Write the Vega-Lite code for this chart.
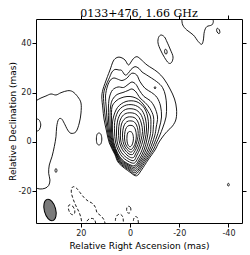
{
"$schema": "https://vega.github.io/schema/vega-lite/v6.json",
"width": 206, "height": 204,
"autosize": {"type": "none"},
"padding": {"left": 36, "top": 19, "right": 8, "bottom": 32},
"title": {"text": "0133+476, 1.66 GHz", "font": "DejaVu Serif", "fontSize": 11, "fontWeight": "normal", "color": "#000", "offset": -4, "frame": "group", "anchor": "middle"},
"config": {"view": {"stroke": "#000", "strokeWidth": 1},
  "axis": {"grid": false, "domain": false, "tickColor": "#000", "tickSize": 4, "labelFont": "DejaVu Sans", "labelFontSize": 8, "labelColor": "#222", "titleFont": "DejaVu Sans", "titleFontSize": 9, "titleFontWeight": "normal", "titleColor": "#000"}},
"resolve": {"axis": {"x": "independent", "y": "independent"}},
"datasets": {
"closed": [
{"id":"c1","n":1,"ra":0.2,"dec":4.25},{"id":"c1","n":2,"ra":-0.81,"dec":3.85},{"id":"c1","n":3,"ra":-1.34,"dec":2.23},{"id":"c1","n":4,"ra":-1.3,"dec":0.4},{"id":"c1","n":5,"ra":-0.81,"dec":-1.21},{"id":"c1","n":6,"ra":0,"dec":-1.94},{"id":"c1","n":7,"ra":0.81,"dec":-1.21},{"id":"c1","n":8,"ra":1.22,"dec":0.4},{"id":"c1","n":9,"ra":1.22,"dec":2.43},{"id":"c1","n":10,"ra":0.89,"dec":3.72},
{"id":"c2","n":1,"ra":0.41,"dec":6.68},{"id":"c2","n":2,"ra":-1.22,"dec":6.48},{"id":"c2","n":3,"ra":-2.24,"dec":4.86},{"id":"c2","n":4,"ra":-2.56,"dec":2.43},{"id":"c2","n":5,"ra":-2.24,"dec":0},{"id":"c2","n":6,"ra":-1.42,"dec":-2.02},{"id":"c2","n":7,"ra":-0.41,"dec":-3.04},{"id":"c2","n":8,"ra":0.81,"dec":-2.43},{"id":"c2","n":9,"ra":1.83,"dec":-0.81},{"id":"c2","n":10,"ra":2.24,"dec":1.62},{"id":"c2","n":11,"ra":2.03,"dec":4.25},{"id":"c2","n":12,"ra":1.42,"dec":5.87},
{"id":"c3","n":1,"ra":0.61,"dec":8.5},{"id":"c3","n":2,"ra":-1.42,"dec":8.3},{"id":"c3","n":3,"ra":-2.64,"dec":6.88},{"id":"c3","n":4,"ra":-3.25,"dec":4.66},{"id":"c3","n":5,"ra":-3.25,"dec":2.23},{"id":"c3","n":6,"ra":-2.64,"dec":-0.4},{"id":"c3","n":7,"ra":-1.83,"dec":-2.63},{"id":"c3","n":8,"ra":-0.61,"dec":-4.05},{"id":"c3","n":9,"ra":0.61,"dec":-3.64},{"id":"c3","n":10,"ra":2.03,"dec":-2.02},{"id":"c3","n":11,"ra":2.85,"dec":0.2},{"id":"c3","n":12,"ra":3.05,"dec":3.24},{"id":"c3","n":13,"ra":2.64,"dec":6.07},{"id":"c3","n":14,"ra":1.83,"dec":7.69},
{"id":"c4","n":1,"ra":0.81,"dec":10.12},{"id":"c4","n":2,"ra":-1.63,"dec":9.92},{"id":"c4","n":3,"ra":-3.05,"dec":8.5},{"id":"c4","n":4,"ra":-3.86,"dec":6.07},{"id":"c4","n":5,"ra":-4.07,"dec":3.44},{"id":"c4","n":6,"ra":-3.66,"dec":0.4},{"id":"c4","n":7,"ra":-2.64,"dec":-2.43},{"id":"c4","n":8,"ra":-1.63,"dec":-4.25},{"id":"c4","n":9,"ra":-1.02,"dec":-5.06},{"id":"c4","n":10,"ra":0.41,"dec":-4.86},{"id":"c4","n":11,"ra":2.03,"dec":-3.24},{"id":"c4","n":12,"ra":3.25,"dec":-1.21},{"id":"c4","n":13,"ra":3.86,"dec":1.21},{"id":"c4","n":14,"ra":3.86,"dec":4.45},{"id":"c4","n":15,"ra":3.46,"dec":7.29},{"id":"c4","n":16,"ra":2.44,"dec":9.11},
{"id":"c5","n":1,"ra":1.02,"dec":11.74},{"id":"c5","n":2,"ra":-1.83,"dec":11.54},{"id":"c5","n":3,"ra":-3.66,"dec":9.92},{"id":"c5","n":4,"ra":-4.67,"dec":7.29},{"id":"c5","n":5,"ra":-5.08,"dec":4.25},{"id":"c5","n":6,"ra":-4.47,"dec":0.81},{"id":"c5","n":7,"ra":-3.46,"dec":-2.43},{"id":"c5","n":8,"ra":-2.24,"dec":-4.86},{"id":"c5","n":9,"ra":-1.42,"dec":-6.28},{"id":"c5","n":10,"ra":0.2,"dec":-6.07},{"id":"c5","n":11,"ra":2.24,"dec":-4.25},{"id":"c5","n":12,"ra":3.66,"dec":-2.02},{"id":"c5","n":13,"ra":4.47,"dec":0.81},{"id":"c5","n":14,"ra":4.67,"dec":4.45},{"id":"c5","n":15,"ra":4.27,"dec":7.9},{"id":"c5","n":16,"ra":3.05,"dec":10.53},
{"id":"c6","n":1,"ra":1.22,"dec":13.36},{"id":"c6","n":2,"ra":-2.03,"dec":13.16},{"id":"c6","n":3,"ra":-4.27,"dec":11.34},{"id":"c6","n":4,"ra":-5.49,"dec":8.3},{"id":"c6","n":5,"ra":-5.89,"dec":4.86},{"id":"c6","n":6,"ra":-5.28,"dec":0.81},{"id":"c6","n":7,"ra":-4.07,"dec":-2.83},{"id":"c6","n":8,"ra":-2.64,"dec":-5.67},{"id":"c6","n":9,"ra":-1.63,"dec":-7.49},{"id":"c6","n":10,"ra":0.2,"dec":-7.09},{"id":"c6","n":11,"ra":2.64,"dec":-5.26},{"id":"c6","n":12,"ra":4.27,"dec":-2.83},{"id":"c6","n":13,"ra":5.28,"dec":0.4},{"id":"c6","n":14,"ra":5.49,"dec":4.45},{"id":"c6","n":15,"ra":5.08,"dec":8.5},{"id":"c6","n":16,"ra":3.66,"dec":11.74},
{"id":"c7","n":1,"ra":1.42,"dec":14.98},{"id":"c7","n":2,"ra":-2.24,"dec":14.78},{"id":"c7","n":3,"ra":-4.88,"dec":12.75},{"id":"c7","n":4,"ra":-6.3,"dec":9.31},{"id":"c7","n":5,"ra":-6.71,"dec":5.26},{"id":"c7","n":6,"ra":-6.1,"dec":0.81},{"id":"c7","n":7,"ra":-4.88,"dec":-3.24},{"id":"c7","n":8,"ra":-3.25,"dec":-6.48},{"id":"c7","n":9,"ra":-1.83,"dec":-8.5},{"id":"c7","n":10,"ra":0.2,"dec":-8.1},{"id":"c7","n":11,"ra":2.85,"dec":-6.28},{"id":"c7","n":12,"ra":4.67,"dec":-3.64},{"id":"c7","n":13,"ra":5.89,"dec":0},{"id":"c7","n":14,"ra":6.3,"dec":4.45},{"id":"c7","n":15,"ra":6.1,"dec":8.91},{"id":"c7","n":16,"ra":4.47,"dec":12.96},
{"id":"c8","n":1,"ra":1.63,"dec":16.4},{"id":"c8","n":2,"ra":-2.44,"dec":16.4},{"id":"c8","n":3,"ra":-5.49,"dec":14.17},{"id":"c8","n":4,"ra":-7.11,"dec":10.53},{"id":"c8","n":5,"ra":-7.52,"dec":6.07},{"id":"c8","n":6,"ra":-6.91,"dec":1.21},{"id":"c8","n":7,"ra":-5.69,"dec":-3.24},{"id":"c8","n":8,"ra":-3.86,"dec":-6.88},{"id":"c8","n":9,"ra":-2.03,"dec":-9.52},{"id":"c8","n":10,"ra":0.2,"dec":-9.11},{"id":"c8","n":11,"ra":3.05,"dec":-7.29},{"id":"c8","n":12,"ra":5.08,"dec":-4.45},{"id":"c8","n":13,"ra":6.5,"dec":-0.4},{"id":"c8","n":14,"ra":7.11,"dec":4.45},{"id":"c8","n":15,"ra":6.91,"dec":9.31},{"id":"c8","n":16,"ra":5.08,"dec":13.97},
{"id":"c9","n":1,"ra":7.52,"dec":9.31},{"id":"c9","n":2,"ra":7.32,"dec":14.17},{"id":"c9","n":3,"ra":5.69,"dec":16.6},{"id":"c9","n":4,"ra":3.66,"dec":17.82},{"id":"c9","n":5,"ra":1.22,"dec":18.42},{"id":"c9","n":6,"ra":-1.22,"dec":18.22},{"id":"c9","n":7,"ra":-3.46,"dec":17.21},{"id":"c9","n":8,"ra":-5.28,"dec":15.39},{"id":"c9","n":9,"ra":-6.91,"dec":12.96},{"id":"c9","n":10,"ra":-8.33,"dec":10.12},{"id":"c9","n":11,"ra":-8.46,"dec":6.07},{"id":"c9","n":12,"ra":-8.13,"dec":2.43},{"id":"c9","n":13,"ra":-6.42,"dec":-3.24},{"id":"c9","n":14,"ra":-4.27,"dec":-7.29},{"id":"c9","n":15,"ra":-2.11,"dec":-10.16},{"id":"c9","n":16,"ra":0,"dec":-9.64},{"id":"c9","n":17,"ra":3.29,"dec":-7.53},{"id":"c9","n":18,"ra":5.26,"dec":-4.53},{"id":"c9","n":19,"ra":6.83,"dec":-0.4},{"id":"c9","n":20,"ra":7.52,"dec":4.45},
{"id":"c10","n":1,"ra":8.13,"dec":9.31},{"id":"c10","n":2,"ra":7.93,"dec":14.17},{"id":"c10","n":3,"ra":7.11,"dec":17.21},{"id":"c10","n":4,"ra":5.28,"dec":19.23},{"id":"c10","n":5,"ra":2.85,"dec":20.04},{"id":"c10","n":6,"ra":0.81,"dec":20.85},{"id":"c10","n":7,"ra":-0.81,"dec":21.46},{"id":"c10","n":8,"ra":-2.44,"dec":20.25},{"id":"c10","n":9,"ra":-4.07,"dec":17.82},{"id":"c10","n":10,"ra":-6.1,"dec":15.99},{"id":"c10","n":11,"ra":-8.13,"dec":13.56},{"id":"c10","n":12,"ra":-9.55,"dec":10.12},{"id":"c10","n":13,"ra":-9.47,"dec":6.07},{"id":"c10","n":14,"ra":-9.06,"dec":2.43},{"id":"c10","n":15,"ra":-7.2,"dec":-3.24},{"id":"c10","n":16,"ra":-4.88,"dec":-7.29},{"id":"c10","n":17,"ra":-2.2,"dec":-10.85},{"id":"c10","n":18,"ra":0,"dec":-10.16},{"id":"c10","n":19,"ra":3.54,"dec":-7.73},{"id":"c10","n":20,"ra":5.45,"dec":-4.64},{"id":"c10","n":21,"ra":7.15,"dec":-0.4},{"id":"c10","n":22,"ra":7.93,"dec":4.45},
{"id":"c11","n":1,"ra":8.74,"dec":9.31},{"id":"c11","n":2,"ra":8.74,"dec":14.58},{"id":"c11","n":3,"ra":8.33,"dec":18.22},{"id":"c11","n":4,"ra":7.11,"dec":21.05},{"id":"c11","n":5,"ra":4.88,"dec":22.27},{"id":"c11","n":6,"ra":2.64,"dec":22.07},{"id":"c11","n":7,"ra":0.81,"dec":23.28},{"id":"c11","n":8,"ra":-0.81,"dec":24.29},{"id":"c11","n":9,"ra":-2.44,"dec":23.28},{"id":"c11","n":10,"ra":-3.86,"dec":20.85},{"id":"c11","n":11,"ra":-5.69,"dec":18.42},{"id":"c11","n":12,"ra":-8.13,"dec":16.8},{"id":"c11","n":13,"ra":-9.96,"dec":14.17},{"id":"c11","n":14,"ra":-11.18,"dec":10.12},{"id":"c11","n":15,"ra":-10.65,"dec":6.07},{"id":"c11","n":16,"ra":-10,"dec":2.43},{"id":"c11","n":17,"ra":-7.93,"dec":-3.24},{"id":"c11","n":18,"ra":-5.49,"dec":-7.29},{"id":"c11","n":19,"ra":-2.32,"dec":-11.54},{"id":"c11","n":20,"ra":0,"dec":-10.65},{"id":"c11","n":21,"ra":3.78,"dec":-7.98},{"id":"c11","n":22,"ra":5.63,"dec":-4.74},{"id":"c11","n":23,"ra":7.44,"dec":-0.4},{"id":"c11","n":24,"ra":8.33,"dec":4.45},
{"id":"c12","n":1,"ra":9.35,"dec":9.31},{"id":"c12","n":2,"ra":9.67,"dec":14.17},{"id":"c12","n":3,"ra":9.96,"dec":18.63},{"id":"c12","n":4,"ra":9.15,"dec":22.67},{"id":"c12","n":5,"ra":7.93,"dec":25.1},{"id":"c12","n":6,"ra":6.5,"dec":25.91},{"id":"c12","n":7,"ra":4.67,"dec":25.31},{"id":"c12","n":8,"ra":3.25,"dec":24.9},{"id":"c12","n":9,"ra":1.34,"dec":25.79},{"id":"c12","n":10,"ra":-0.69,"dec":27.82},{"id":"c12","n":11,"ra":-2.72,"dec":27.13},{"id":"c12","n":12,"ra":-4.07,"dec":24.42},{"id":"c12","n":13,"ra":-6.1,"dec":21.74},{"id":"c12","n":14,"ra":-8.74,"dec":20.04},{"id":"c12","n":15,"ra":-10.98,"dec":18.02},{"id":"c12","n":16,"ra":-12.4,"dec":14.58},{"id":"c12","n":17,"ra":-12.8,"dec":10.12},{"id":"c12","n":18,"ra":-11.99,"dec":6.07},{"id":"c12","n":19,"ra":-10.98,"dec":2.43},{"id":"c12","n":20,"ra":-8.66,"dec":-3.24},{"id":"c12","n":21,"ra":-6.1,"dec":-7.29},{"id":"c12","n":22,"ra":-2.4,"dec":-12.23},{"id":"c12","n":23,"ra":0,"dec":-11.18},{"id":"c12","n":24,"ra":4.02,"dec":-8.18},{"id":"c12","n":25,"ra":5.81,"dec":-4.82},{"id":"c12","n":26,"ra":7.76,"dec":-0.4},{"id":"c12","n":27,"ra":8.74,"dec":4.45},
{"id":"c13","n":1,"ra":9.96,"dec":9.31},{"id":"c13","n":2,"ra":10.49,"dec":14.17},{"id":"c13","n":3,"ra":10.77,"dec":18.63},{"id":"c13","n":4,"ra":10.16,"dec":21.86},{"id":"c13","n":5,"ra":8.33,"dec":26.12},{"id":"c13","n":6,"ra":7.32,"dec":28.34},{"id":"c13","n":7,"ra":6.1,"dec":29.36},{"id":"c13","n":8,"ra":4.47,"dec":29.15},{"id":"c13","n":9,"ra":3.37,"dec":28.95},{"id":"c13","n":10,"ra":2.03,"dec":27.13},{"id":"c13","n":11,"ra":0.81,"dec":27.74},{"id":"c13","n":12,"ra":-0.41,"dec":29.36},{"id":"c13","n":13,"ra":-2.03,"dec":30.49},{"id":"c13","n":14,"ra":-3.66,"dec":29.76},{"id":"c13","n":15,"ra":-4.88,"dec":28.34},{"id":"c13","n":16,"ra":-6.79,"dec":27.13},{"id":"c13","n":17,"ra":-10.85,"dec":24.42},{"id":"c13","n":18,"ra":-13.21,"dec":22.07},{"id":"c13","n":19,"ra":-14.43,"dec":18.63},{"id":"c13","n":20,"ra":-14.84,"dec":14.58},{"id":"c13","n":21,"ra":-14.63,"dec":10.12},{"id":"c13","n":22,"ra":-13.41,"dec":6.07},{"id":"c13","n":23,"ra":-11.99,"dec":2.43},{"id":"c13","n":24,"ra":-10.69,"dec":-0.4},{"id":"c13","n":25,"ra":-9.43,"dec":-3.24},{"id":"c13","n":26,"ra":-6.71,"dec":-7.29},{"id":"c13","n":27,"ra":-2.52,"dec":-12.92},{"id":"c13","n":28,"ra":0,"dec":-11.66},{"id":"c13","n":29,"ra":4.27,"dec":-8.42},{"id":"c13","n":30,"ra":6,"dec":-4.9},{"id":"c13","n":31,"ra":8.09,"dec":-0.4},{"id":"c13","n":32,"ra":9.15,"dec":4.45},
{"id":"c14","n":1,"ra":10.57,"dec":9.31},{"id":"c14","n":2,"ra":11.06,"dec":13.77},{"id":"c14","n":3,"ra":11.46,"dec":18.22},{"id":"c14","n":4,"ra":11.06,"dec":21.05},{"id":"c14","n":5,"ra":10.16,"dec":23.77},{"id":"c14","n":6,"ra":9.15,"dec":26.52},{"id":"c14","n":7,"ra":8.13,"dec":29.15},{"id":"c14","n":8,"ra":6.79,"dec":32.8},{"id":"c14","n":9,"ra":5.28,"dec":34.21},{"id":"c14","n":10,"ra":3.66,"dec":34.21},{"id":"c14","n":11,"ra":2.03,"dec":33.2},{"id":"c14","n":12,"ra":0.69,"dec":31.18},{"id":"c14","n":13,"ra":-0.41,"dec":32.39},{"id":"c14","n":14,"ra":-1.42,"dec":33.81},{"id":"c14","n":15,"ra":-2.85,"dec":34.54},{"id":"c14","n":16,"ra":-4.47,"dec":33.4},{"id":"c14","n":17,"ra":-6.91,"dec":31.18},{"id":"c14","n":18,"ra":-10.98,"dec":28.46},{"id":"c14","n":19,"ra":-13.82,"dec":25.51},{"id":"c14","n":20,"ra":-16.26,"dec":21.46},{"id":"c14","n":21,"ra":-18.09,"dec":17.41},{"id":"c14","n":22,"ra":-18.9,"dec":13.36},{"id":"c14","n":23,"ra":-18.7,"dec":9.31},{"id":"c14","n":24,"ra":-17.28,"dec":6.48},{"id":"c14","n":25,"ra":-15.04,"dec":4.25},{"id":"c14","n":26,"ra":-13.21,"dec":2.02},{"id":"c14","n":27,"ra":-11.59,"dec":-0.4},{"id":"c14","n":28,"ra":-10.16,"dec":-3.24},{"id":"c14","n":29,"ra":-7.32,"dec":-7.29},{"id":"c14","n":30,"ra":-4.67,"dec":-11.34},{"id":"c14","n":31,"ra":-2.64,"dec":-13.69},{"id":"c14","n":32,"ra":0,"dec":-12.23},{"id":"c14","n":33,"ra":4.51,"dec":-8.62},{"id":"c14","n":34,"ra":6.18,"dec":-5},{"id":"c14","n":35,"ra":8.41,"dec":-0.4},{"id":"c14","n":36,"ra":9.55,"dec":4.45},
{"id":"o1","n":1,"ra":-12.6,"dec":43.32},{"id":"o1","n":2,"ra":-14.02,"dec":42.51},{"id":"o1","n":3,"ra":-15.04,"dec":40.49},{"id":"o1","n":4,"ra":-16.46,"dec":37.25},{"id":"o1","n":5,"ra":-17.48,"dec":34.42},{"id":"o1","n":6,"ra":-16.87,"dec":32.19},{"id":"o1","n":7,"ra":-15.65,"dec":31.99},{"id":"o1","n":8,"ra":-14.02,"dec":34.21},{"id":"o1","n":9,"ra":-12.4,"dec":37.25},{"id":"o1","n":10,"ra":-11.38,"dec":40.09},{"id":"o1","n":11,"ra":-11.59,"dec":42.31},
{"id":"o2","n":1,"ra":-14.31,"dec":37.53},{"id":"o2","n":2,"ra":-14.96,"dec":37.13},{"id":"o2","n":3,"ra":-15.04,"dec":36.04},{"id":"o2","n":4,"ra":-14.63,"dec":35.55},{"id":"o2","n":5,"ra":-14.15,"dec":36.04},{"id":"o2","n":6,"ra":-14.06,"dec":37.05},
{"id":"o3","n":1,"ra":-10.16,"dec":22.47},{"id":"o3","n":2,"ra":-10.49,"dec":21.99},{"id":"o3","n":3,"ra":-10.16,"dec":21.46},{"id":"o3","n":4,"ra":-9.84,"dec":21.99},
{"id":"o4","n":1,"ra":12.6,"dec":3.64},{"id":"o4","n":2,"ra":11.79,"dec":3.04},{"id":"o4","n":3,"ra":11.46,"dec":1.21},{"id":"o4","n":4,"ra":11.79,"dec":-0.61},{"id":"o4","n":5,"ra":12.6,"dec":-1.21},{"id":"o4","n":6,"ra":13.41,"dec":-0.61},{"id":"o4","n":7,"ra":13.66,"dec":1.21},{"id":"o4","n":8,"ra":13.41,"dec":3.04},
{"id":"o5","n":1,"ra":37.8,"dec":9.31},{"id":"o5","n":2,"ra":36.79,"dec":8.71},{"id":"o5","n":3,"ra":36.26,"dec":6.88},{"id":"o5","n":4,"ra":36.79,"dec":5.06},{"id":"o5","n":5,"ra":37.8,"dec":4.45},{"id":"o5","n":6,"ra":38.82,"dec":5.06},{"id":"o5","n":7,"ra":39.23,"dec":6.88},{"id":"o5","n":8,"ra":38.82,"dec":8.71},
{"id":"o6","n":1,"ra":30.08,"dec":-10.73},{"id":"o6","n":2,"ra":29.67,"dec":-11.54},{"id":"o6","n":3,"ra":30.08,"dec":-12.35},{"id":"o6","n":4,"ra":30.49,"dec":-11.54},
{"id":"o7","n":1,"ra":-39.96,"dec":-16.68},{"id":"o7","n":2,"ra":-40.33,"dec":-17.29},{"id":"o7","n":3,"ra":-39.96,"dec":-17.9},{"id":"o7","n":4,"ra":-39.59,"dec":-17.29},
{"id":"o8","n":1,"ra":-35.49,"dec":46.04},{"id":"o8","n":2,"ra":-36.3,"dec":45.43},{"id":"o8","n":3,"ra":-36.5,"dec":44.34},{"id":"o8","n":4,"ra":-36.1,"dec":43.89},{"id":"o8","n":5,"ra":-35.37,"dec":44.54},{"id":"o8","n":6,"ra":-35.2,"dec":45.55}
],
"open": [
{"id":"L","n":1,"ra":39.43,"dec":16.4},{"id":"L","n":2,"ra":38.21,"dec":16.72},{"id":"L","n":3,"ra":36.18,"dec":17.82},{"id":"L","n":4,"ra":34.15,"dec":18.63},{"id":"L","n":5,"ra":32.11,"dec":19.44},{"id":"L","n":6,"ra":30.08,"dec":19.03},{"id":"L","n":7,"ra":28.05,"dec":19.96},{"id":"L","n":8,"ra":25.33,"dec":20.77},{"id":"L","n":9,"ra":23.29,"dec":20.37},{"id":"L","n":10,"ra":21.26,"dec":18.34},{"id":"L","n":11,"ra":19.92,"dec":15.79},{"id":"L","n":12,"ra":19.92,"dec":11.74},{"id":"L","n":13,"ra":20.61,"dec":7.69},{"id":"L","n":14,"ra":21.95,"dec":4.17},{"id":"L","n":15,"ra":23.98,"dec":3.52},{"id":"L","n":16,"ra":25.33,"dec":4.86},{"id":"L","n":17,"ra":26.71,"dec":7.57},{"id":"L","n":18,"ra":27.85,"dec":9.39},{"id":"L","n":19,"ra":29.06,"dec":9.11},{"id":"L","n":20,"ra":29.8,"dec":6.19},{"id":"L","n":21,"ra":30.08,"dec":2.15},{"id":"L","n":22,"ra":30.77,"dec":-1.9},{"id":"L","n":23,"ra":31.71,"dec":-5.95},{"id":"L","n":24,"ra":32.8,"dec":-9.31},{"id":"L","n":25,"ra":33.05,"dec":-12.67},{"id":"L","n":26,"ra":32.52,"dec":-15.39},{"id":"L","n":27,"ra":33.05,"dec":-17.61},{"id":"L","n":28,"ra":34.55,"dec":-18.75},{"id":"L","n":29,"ra":36.59,"dec":-19.03},{"id":"L","n":30,"ra":38.21,"dec":-18.63},{"id":"L","n":31,"ra":39.43,"dec":-18.42},
{"id":"TR","n":1,"ra":-20.93,"dec":51.02},{"id":"TR","n":2,"ra":-21.02,"dec":49.8},{"id":"TR","n":3,"ra":-21.42,"dec":47.37},{"id":"TR","n":4,"ra":-23.05,"dec":45.35},{"id":"TR","n":5,"ra":-25.73,"dec":43.32},{"id":"TR","n":6,"ra":-27.76,"dec":40.61},{"id":"TR","n":7,"ra":-29.15,"dec":39.56},{"id":"TR","n":8,"ra":-29.8,"dec":41.3},{"id":"TR","n":9,"ra":-30.2,"dec":44.66},{"id":"TR","n":10,"ra":-31.18,"dec":46.68},{"id":"TR","n":11,"ra":-33.21,"dec":47.37},{"id":"TR","n":12,"ra":-33.86,"dec":48.71},{"id":"TR","n":13,"ra":-33.62,"dec":49.8},{"id":"TR","n":14,"ra":-33.54,"dec":51.02}
],
"dclosed": [
{"id":"D1","n":1,"ra":24.39,"dec":-25.39},{"id":"D1","n":2,"ra":23.37,"dec":-25.91},{"id":"D1","n":3,"ra":22.48,"dec":-27.53},{"id":"D1","n":4,"ra":22.56,"dec":-28.95},{"id":"D1","n":5,"ra":23.37,"dec":-29.44},{"id":"D1","n":6,"ra":24.39,"dec":-28.75},{"id":"D1","n":7,"ra":25.0,"dec":-27.13},{"id":"D1","n":8,"ra":25.0,"dec":-25.91},
{"id":"D2","n":1,"ra":0.61,"dec":-26.03},{"id":"D2","n":2,"ra":-0.2,"dec":-26.52},{"id":"D2","n":3,"ra":-0.33,"dec":-27.74},{"id":"D2","n":4,"ra":0.2,"dec":-28.75},{"id":"D2","n":5,"ra":1.1,"dec":-28.55},{"id":"D2","n":6,"ra":1.38,"dec":-27.33},{"id":"D2","n":7,"ra":1.22,"dec":-26.44}
],
"dopen": [
{"id":"E1","n":1,"ra":19.63,"dec":-34.01},{"id":"E1","n":2,"ra":19.63,"dec":-32.8},{"id":"E1","n":3,"ra":19.92,"dec":-30.77},{"id":"E1","n":4,"ra":20.73,"dec":-28.34},{"id":"E1","n":5,"ra":21.95,"dec":-25.91},{"id":"E1","n":6,"ra":22.97,"dec":-23.48},{"id":"E1","n":7,"ra":23.78,"dec":-20.85},{"id":"E1","n":8,"ra":23.78,"dec":-19.03},{"id":"E1","n":9,"ra":23.05,"dec":-18.1},{"id":"E1","n":10,"ra":21.67,"dec":-18.75},{"id":"E1","n":11,"ra":20.33,"dec":-20.45},{"id":"E1","n":12,"ra":18.7,"dec":-22.47},{"id":"E1","n":13,"ra":17.07,"dec":-23.89},{"id":"E1","n":14,"ra":15.24,"dec":-24.9},{"id":"E1","n":15,"ra":14.02,"dec":-26.52},{"id":"E1","n":16,"ra":13.41,"dec":-28.55},{"id":"E1","n":17,"ra":11.99,"dec":-29.76},{"id":"E1","n":18,"ra":10.77,"dec":-31.18},{"id":"E1","n":19,"ra":10.16,"dec":-32.8},{"id":"E1","n":20,"ra":9.96,"dec":-34.01},
{"id":"E2","n":1,"ra":17.89,"dec":-34.01},{"id":"E2","n":2,"ra":17.68,"dec":-32.39},{"id":"E2","n":3,"ra":16.67,"dec":-31.18},{"id":"E2","n":4,"ra":15.24,"dec":-30.97},{"id":"E2","n":5,"ra":14.23,"dec":-31.78},{"id":"E2","n":6,"ra":13.82,"dec":-34.01},
{"id":"E3","n":1,"ra":5.89,"dec":-34.01},{"id":"E3","n":2,"ra":5.89,"dec":-31.18},{"id":"E3","n":3,"ra":5.08,"dec":-29.56},{"id":"E3","n":4,"ra":3.86,"dec":-29.27},{"id":"E3","n":5,"ra":2.93,"dec":-30.37},{"id":"E3","n":6,"ra":2.72,"dec":-31.99},{"id":"E3","n":7,"ra":2.64,"dec":-34.01},
{"id":"E4","n":1,"ra":-1.42,"dec":-34.01},{"id":"E4","n":2,"ra":-1.42,"dec":-31.38},{"id":"E4","n":3,"ra":-2.24,"dec":-30.17},{"id":"E4","n":4,"ra":-3.05,"dec":-30.77},{"id":"E4","n":5,"ra":-3.37,"dec":-32.39},{"id":"E4","n":6,"ra":-3.46,"dec":-34.01}
],
"beam": [{"ra": 32.52, "dec": -27.53}]
},
"layer": [
{"data": {"name": "closed"},
 "mark": {"type": "line", "interpolate": "cardinal-closed", "stroke": "#000", "strokeWidth": 0.9, "clip": true},
 "encoding": {
  "x": {"field": "ra", "type": "quantitative", "scale": {"domain": [38.2, -45.5], "nice": false, "zero": false},
        "axis": {"orient": "bottom", "values": [20, 0, -20, -40], "labelExpr": "datum.value", "title": "Relative Right Ascension (mas)", "labelPadding": 2, "titlePadding": 4}},
  "y": {"field": "dec", "type": "quantitative", "scale": {"domain": [-32.8, 49.8], "nice": false, "zero": false},
        "axis": {"orient": "left", "values": [-20, 0, 20, 40], "labelExpr": "datum.value", "title": "Relative Declination (mas)", "labelPadding": 1, "titlePadding": 0}},
  "detail": {"field": "id"},
  "order": {"field": "n", "type": "quantitative"}}},
{"data": {"name": "open"},
 "mark": {"type": "line", "interpolate": "cardinal", "stroke": "#000", "strokeWidth": 0.9, "clip": true},
 "encoding": {
  "x": {"field": "ra", "type": "quantitative", "axis": {"orient": "top", "values": [20, 0, -20, -40], "labels": false, "title": null}},
  "y": {"field": "dec", "type": "quantitative", "axis": {"orient": "right", "values": [-20, 0, 20, 40], "labels": false, "title": null}},
  "detail": {"field": "id"},
  "order": {"field": "n", "type": "quantitative"}}},
{"data": {"name": "dclosed"},
 "mark": {"type": "line", "interpolate": "cardinal-closed", "stroke": "#000", "strokeWidth": 0.9, "strokeDash": [3, 2], "clip": true},
 "encoding": {
  "x": {"field": "ra", "type": "quantitative", "axis": null},
  "y": {"field": "dec", "type": "quantitative", "axis": null},
  "detail": {"field": "id"},
  "order": {"field": "n", "type": "quantitative"}}},
{"data": {"name": "dopen"},
 "mark": {"type": "line", "interpolate": "cardinal", "stroke": "#000", "strokeWidth": 0.9, "strokeDash": [3, 2], "clip": true},
 "encoding": {
  "x": {"field": "ra", "type": "quantitative", "axis": null},
  "y": {"field": "dec", "type": "quantitative", "axis": null},
  "detail": {"field": "id"},
  "order": {"field": "n", "type": "quantitative"}}},
{"data": {"name": "beam"},
 "mark": {"type": "point", "shape": "M0,-1A0.52,1,0,1,1,0,1A0.52,1,0,1,1,0,-1Z", "size": 484, "angle": 345, "filled": true, "fill": "#7a7a7a", "stroke": "#000", "strokeWidth": 1, "opacity": 1},
 "encoding": {
  "x": {"field": "ra", "type": "quantitative", "axis": null},
  "y": {"field": "dec", "type": "quantitative", "axis": null}}}
]
}
